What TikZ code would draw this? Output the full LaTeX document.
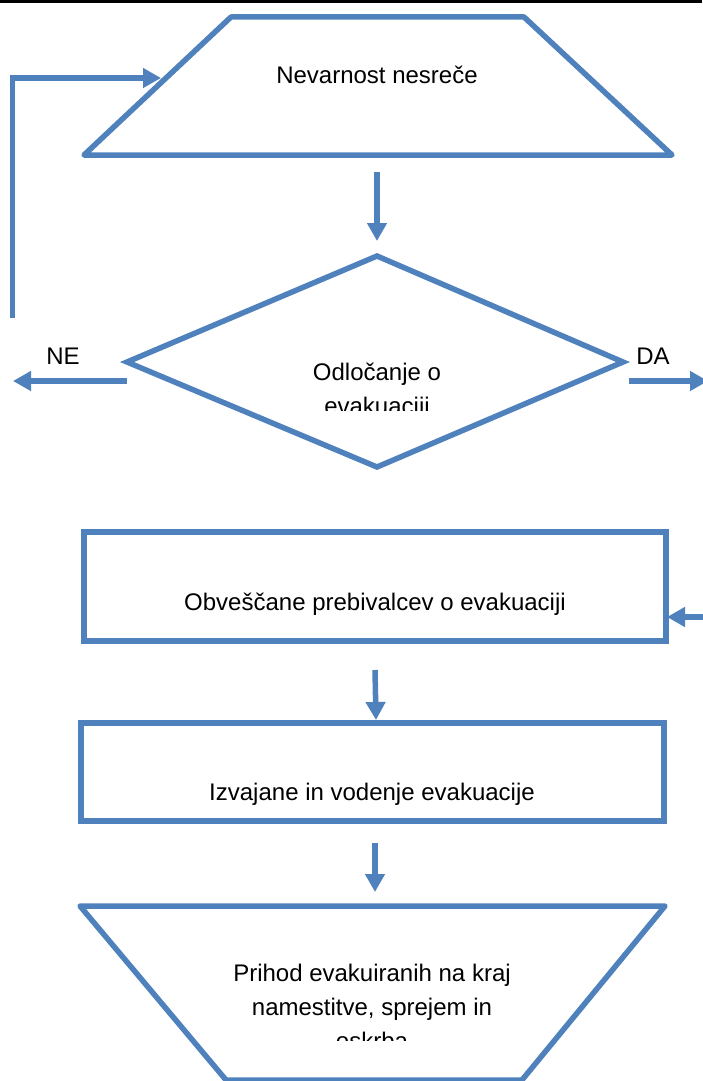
\documentclass[tikz,border=0pt]{standalone}
\usepackage{fontspec}
\setmainfont{Liberation Sans}
\usetikzlibrary{arrows.meta}
\definecolor{evblue}{RGB}{79,129,189}
\tikzset{
  obris/.style={draw=evblue,line width=5.5pt,line join=round},
  puscica/.style={draw=evblue,line width=5.5pt,-{Triangle[length=18pt,width=19pt]}},
  besedilo/.style={anchor=base,align=center,inner sep=0pt}
}
\begin{document}
\begin{tikzpicture}[x=1pt,y=-1pt,font=\fontsize{24}{34}\selectfont]
\useasboundingbox (0,0) rectangle (702,1081);
\fill[black] (0,0) rectangle (702,3.5);
% nevarnost
\draw[obris] (231,17)--(524,17)--(672,155)--(84,155)--cycle;
\node[besedilo] (nev) at (377,84) {Nevarnost nesreče};
% odlocitev
\draw[obris,line join=miter] (377,256)--(623,362)--(377,467)--(127,362)--cycle;
\begin{scope}
  \clip (150,340) rectangle (600,410);
  \node[besedilo] (odl) at (377,414) {Odločanje o\\evakuaciji};
\end{scope}
\node[besedilo] (ne) at (63,364) {NE};
\node[besedilo] (da) at (653,364) {DA};
% obvescanje in izvajanje
\draw[obris,line join=miter] (84,532) rectangle (666,641);
\node[besedilo] (obv) at (375,610) {Obveščane prebivalcev o evakuaciji};
\draw[obris,line join=miter] (81,723) rectangle (664,821);
\node[besedilo] (izv) at (372,800) {Izvajane in vodenje evakuacije};
% prihod
\draw[obris] (80,906)--(665,906)--(522,1080)--(226,1080)--cycle;
\begin{scope}
  \clip (200,940) rectangle (550,1040);
  \node[besedilo] (pri) at (372,1049) {Prihod evakuiranih na kraj\\namestitve, sprejem in\\oskrba};
\end{scope}
% povezave
\coordinate (zankaS) at (12.5,318);
\coordinate (zankaE) at (161,78);
\coordinate (a1s) at (377,172);
\coordinate (a1e) at (377,241);
\coordinate (neS) at (127,381);
\coordinate (neE) at (13,381);
\coordinate (daS) at (629,381);
\coordinate (daE) at (708,381);
\coordinate (vhS) at (705,617);
\coordinate (vhE) at (667,617);
\coordinate (a2s) at (375,670);
\coordinate (a2e) at (376,720);
\coordinate (a3s) at (375,843);
\coordinate (a3e) at (375,892);
\draw[puscica] (zankaS) |- (zankaE);
\draw[puscica] (a1s) -- (a1e);
\draw[puscica] (neS) -- (neE);
\draw[puscica] (daS) -- (daE);
\draw[puscica] (vhS) -- (vhE);
\draw[puscica] (a2s) -- (a2e);
\draw[puscica] (a3s) -- (a3e);
\end{tikzpicture}
\end{document}
